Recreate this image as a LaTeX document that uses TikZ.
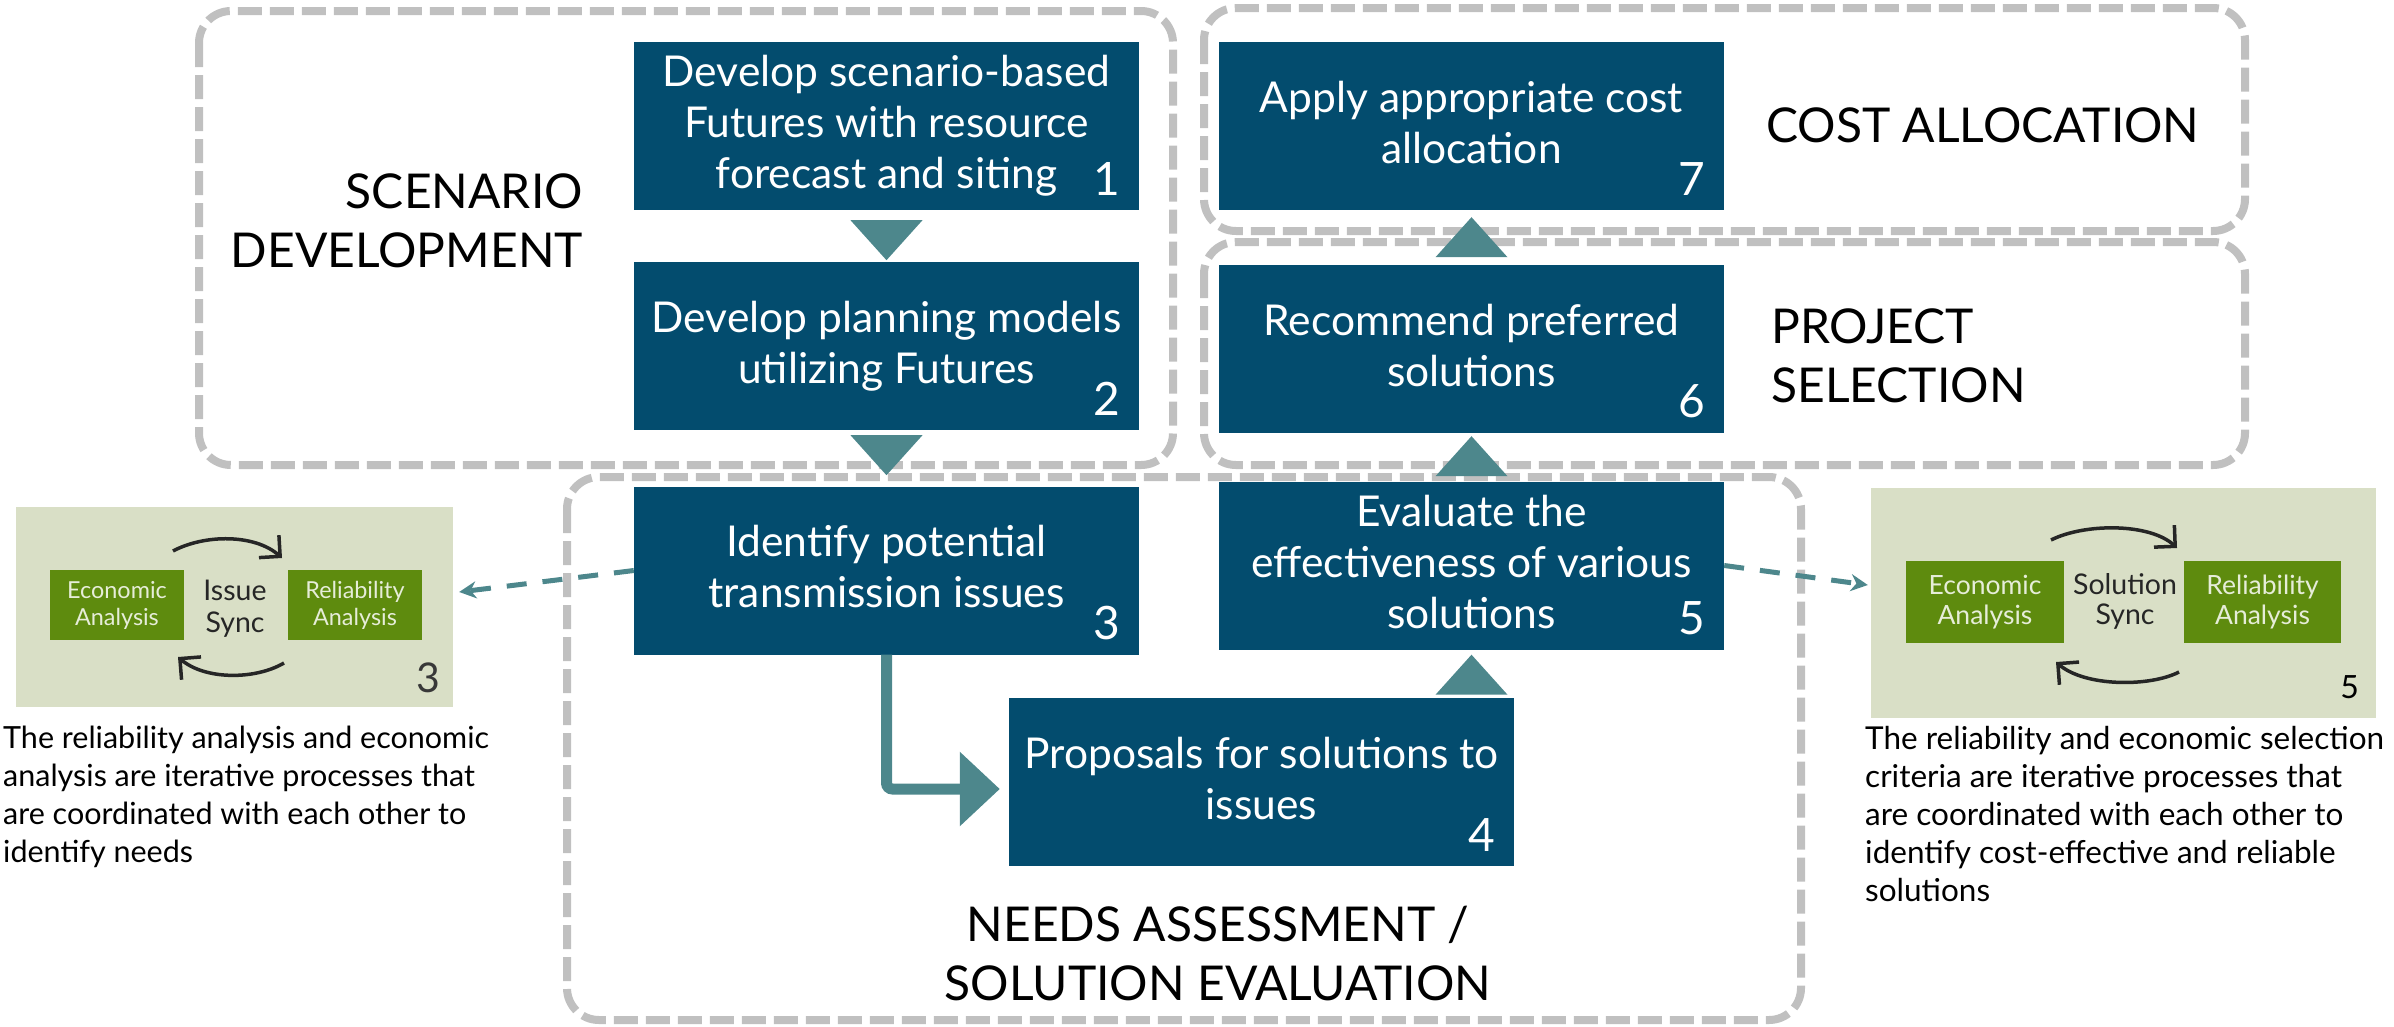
\documentclass[tikz,border=0pt]{standalone}
\usepackage{fontspec}
\setmainfont{Lato}
\usetikzlibrary{arrows.meta,calc}

\definecolor{stepblue}{HTML}{034C6E}
\definecolor{flowteal}{HTML}{4D878C}
\definecolor{zonegray}{HTML}{C0C0C0}
\definecolor{panelsage}{HTML}{D9DFC6}
\definecolor{analysisgreen}{HTML}{5E8B0E}
\definecolor{analysistext}{HTML}{E6EDD8}
\definecolor{syncink}{HTML}{262626}

% fixed first-line height and last-line depth, so every step text sits alike
\newcommand{\stepstrut}{\rule[-8pt]{0pt}{50pt}}

\tikzset{
  stepbox/.style={fill=stepblue, text=white, minimum width=505pt, minimum height=168pt,
    inner sep=0pt, align=center, font=\fontsize{42.5}{51}\selectfont,
    execute at begin node=\stepstrut, execute at end node=\stepstrut},
  stepnum/.style={text=white, anchor=south east, inner sep=0pt, font=\fontsize{46}{46}\selectfont},
  zone/.style={draw=zonegray, line width=8pt, dash pattern=on 24pt off 8pt, rounded corners=32pt},
  zonelabel/.style={inner sep=0pt, text=black, font=\fontsize{48}{59}\selectfont},
  flowtri/.style={fill=flowteal},
  elbow/.style={draw=flowteal, line width=11pt, rounded corners=6pt,
    -{Triangle[length=40pt,width=72pt]}},
  syncdash/.style={draw=flowteal, line width=5pt, dash pattern=on 20pt off 16pt,
    -{Stealth[length=17pt,width=17pt]}},
  panel/.style={fill=panelsage, inner sep=0pt},
  analysis/.style={fill=analysisgreen, text=analysistext, align=center, inner sep=0pt},
  synctext/.style={text=syncink, align=center, inner sep=0pt},
  syncarc/.style={draw=syncink, line width=3.5pt, -{Straight Barb[length=15pt,width=30pt]}},
  note/.style={align=left, inner sep=0pt, anchor=north west, text=black}
}

\begin{document}
\begin{tikzpicture}[x=1pt,y=-1pt]
\useasboundingbox (0,0) rectangle (2394,1026);

% phase zones
\draw[zone] (199,11) rectangle (1173,465);
\draw[zone] (1204,8) rectangle (2245,231);
\draw[zone] (1204,242) rectangle (2245,465);
\draw[zone] (567,477) rectangle (1801,1020);

% phase titles
\node[zonelabel, align=right, anchor=north east] (lblScen) at (583,174) {SCENARIO\\DEVELOPMENT};
\node[zonelabel, anchor=base west] (lblCost) at (1766,142) {COST ALLOCATION};
\node[zonelabel, align=left, anchor=north west] (lblProj) at (1771,309) {PROJECT\\SELECTION};
\node[zonelabel, align=center, anchor=north] (lblNeeds) at (1218,906) {NEEDS ASSESSMENT /\\SOLUTION EVALUATION};

% process steps
\node[stepbox] (b1) at (886.5,126) {Develop scenario-based\\Futures with resource\\forecast and siting};
\node[stepbox] (b2) at (886.5,346) {Develop planning models\\utilizing Futures};
\node[stepbox] (b3) at (886.5,570.5) {Identify potential\\transmission issues};
\node[stepbox] (b4) at (1261.5,782) {Proposals for solutions to\\issues};
\node[stepbox] (b5) at (1471.5,565.5) {Evaluate the\\effectiveness of various\\solutions};
\node[stepbox] (b6) at (1471.5,349) {Recommend preferred\\solutions};
\node[stepbox] (b7) at (1471.5,126) {Apply appropriate cost\\allocation};

% step numbers
\node[stepnum] (n1) at ($(b1.south east)+(-19,-15)$) {1};
\node[stepnum] (n2) at ($(b2.south east)+(-19,-15)$) {2};
\node[stepnum] (n3) at ($(b3.south east)+(-19,-15)$) {3};
\node[stepnum] (n4) at ($(b4.south east)+(-19,-15)$) {4};
\node[stepnum] (n5) at ($(b5.south east)+(-19,-15)$) {5};
\node[stepnum] (n6) at ($(b6.south east)+(-19,-15)$) {6};
\node[stepnum] (n7) at ($(b7.south east)+(-19,-15)$) {7};

% triangular flow markers between steps
\fill[flowtri] ($(b1.south)+(-36,10)$) -- ($(b1.south)+(36,10)$) -- ($(b1.south)+(0,50)$) -- cycle;
\fill[flowtri] ($(b2.south)+(-36,5)$) -- ($(b2.south)+(36,5)$) -- ($(b2.south)+(0,45)$) -- cycle;
\fill[flowtri] ($(b5.south)+(-36,45)$) -- ($(b5.south)+(36,45)$) -- ($(b5.south)+(0,5)$) -- cycle;
\fill[flowtri] ($(b6.south)+(-36,43)$) -- ($(b6.south)+(36,43)$) -- ($(b6.south)+(0,3)$) -- cycle;
\fill[flowtri] ($(b7.south)+(-36,47)$) -- ($(b7.south)+(36,47)$) -- ($(b7.south)+(0,7)$) -- cycle;

% step 3 to step 4
\draw[elbow] (b3.south) |- ($(b4.west)+(-9,7)$);

% left side panel: issue sync
\node[panel, minimum width=437pt, minimum height=200pt] (lp) at (234.5,607) {};
\node[analysis, minimum width=134pt, minimum height=70pt, font=\fontsize{23.4}{27}\selectfont] (ecoL) at (117,605) {Economic\\Analysis};
\node[analysis, minimum width=134pt, minimum height=70pt, font=\fontsize{23.4}{27}\selectfont] (relL) at (355,605) {Reliability\\Analysis};
\node[synctext, font=\fontsize{28.5}{32}\selectfont] (syncL) at (235,609) {Issue\\Sync};
\node[anchor=base east, inner sep=0pt, text=black!78, font=\fontsize{41}{41}\selectfont] (numL) at (440,692) {3};
\draw[syncarc] (173,551) .. controls (205,534) and (255,534) .. (282,558);
\draw[syncarc] (284,663) .. controls (255,680) and (205,680) .. (178,657);

% right side panel: solution sync
\node[panel, minimum width=505pt, minimum height=230pt] (rp) at (2123.5,603) {};
\node[analysis, minimum width=158pt, minimum height=82pt, font=\fontsize{26.5}{30}\selectfont] (ecoR) at (1985,602) {Economic\\Analysis};
\node[analysis, minimum width=157pt, minimum height=82pt, font=\fontsize{26.5}{30}\selectfont] (relR) at (2262.5,602) {Reliability\\Analysis};
\node[synctext, font=\fontsize{28.5}{30}\selectfont] (syncR) at (2125,601) {Solution\\Sync};
\node[anchor=base east, inner sep=0pt, text=black, font=\fontsize{32}{32}\selectfont] (numR) at (2359,698) {5};
\draw[syncarc] (2051,540) .. controls (2085,523) and (2150,523) .. (2177,548);
\draw[syncarc] (2179,672) .. controls (2150,687) and (2085,687) .. (2056,662);

% notes under the panels
\node[note, font=\fontsize{30.5}{38}\selectfont] (noteL) at (3,726) {The reliability analysis and economic\\analysis are iterative processes that\\are coordinated with each other to\\identify needs};
\node[note, font=\fontsize{31.5}{38}\selectfont] (noteR) at (1865,726) {The reliability and economic selection\\criteria are iterative processes that\\are coordinated with each other to\\identify cost-effective and reliable\\solutions};

% links from steps 3 and 5 to their panels
\coordinate (lpTip) at ($(lp.east)+(6,-15)$);
\coordinate (rpTip) at ($(rp.west)+(-3,-18)$);
\draw[syncdash] (b3.west) -- (lpTip);
\draw[syncdash] (b5.east) -- (rpTip);
\end{tikzpicture}
\end{document}
